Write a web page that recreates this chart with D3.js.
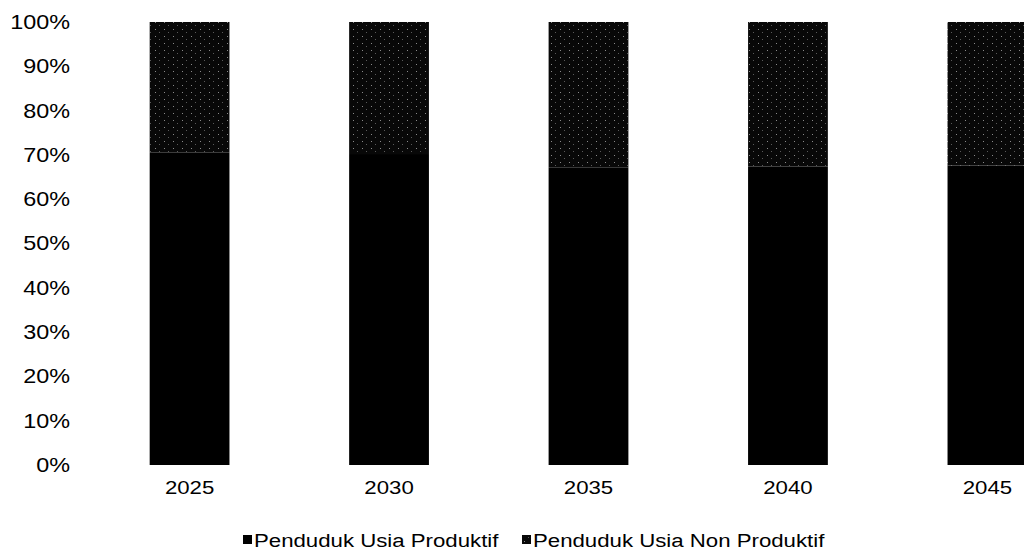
<!DOCTYPE html>
<html>
<head>
<meta charset="utf-8">
<script src="https://cdn.jsdelivr.net/npm/d3@7"></script>
<style>
  html, body { margin: 0; padding: 0; background: #fff; }
  svg { display: block; font-family: "Liberation Sans", Arial, sans-serif; }
</style>
</head>
<body>
<svg id="chart" width="1024" height="553"></svg>
<script>
const years = ["2025", "2030", "2035", "2040", "2045"];
const produktif = [70.5, 70.2, 67.2, 67.4, 67.6];
const nonProduktif = [29.5, 29.8, 32.8, 32.6, 32.4];
const yTicks = [0, 10, 20, 30, 40, 50, 60, 70, 80, 90, 100];
const seriesNames = ["Penduduk Usia Produktif", "Penduduk Usia Non Produktif"];

const svg = d3.select("#chart");
const defs = svg.append("defs");
const pat = defs.append("pattern")
  .attr("id", "dither").attr("patternUnits", "userSpaceOnUse")
  .attr("width", 9).attr("height", 7);
pat.append("rect").attr("width", 9).attr("height", 7).attr("fill", "#080808");
pat.append("rect").attr("x", 2).attr("y", 1).attr("width", 1).attr("height", 1).attr("fill", "#8a8a8a");
pat.append("rect").attr("x", 6).attr("y", 4).attr("width", 1).attr("height", 1).attr("fill", "#5a5a5a");

const x = d3.scaleBand().domain(years).range([30, 1147]).paddingInner(0.6).paddingOuter(0.6);
const y = d3.scaleLinear().domain([0, 100]).range([465, 22]);

const table = years.map((yr, i) => ({ year: yr, p: produktif[i], n: nonProduktif[i] }));
const stack = d3.stack().keys(["p", "n"]);
const layers = stack(table);
const fills = ["#000000", "url(#dither)"];

svg.append("g").selectAll("g").data(layers).join("g")
  .attr("fill", (d, i) => fills[i])
  .selectAll("rect").data(d => d).join("rect")
  .attr("x", d => x(d.data.year))
  .attr("width", x.bandwidth())
  .attr("y", d => y(d[1]))
  .attr("height", d => y(d[0]) - y(d[1]));

const stretch = "scale(1.17,1)";

// Y axis labels
const yAxis = d3.axisLeft(y).tickValues(yTicks).tickFormat(d => d + "%").tickSize(0).tickPadding(0);
const yg = svg.append("g").attr("transform", "translate(70,0)").call(yAxis);
yg.select(".domain").remove();
yg.selectAll("text").attr("font-size", 20).attr("fill", "#000").attr("x", 0)
  .attr("font-family", "Liberation Sans, Arial, sans-serif").attr("transform", stretch);

// X axis labels
const xAxis = d3.axisBottom(x).tickSize(0).tickPadding(0);
const xg = svg.append("g").attr("transform", "translate(0,481)").call(xAxis);
xg.select(".domain").remove();
xg.selectAll("text").attr("font-size", 19).attr("fill", "#000")
  .attr("font-family", "Liberation Sans, Arial, sans-serif").attr("transform", stretch);

// Legend
const legendX = [243, 522];
const lg = svg.append("g");
seriesNames.forEach((name, i) => {
  const g = lg.append("g").attr("transform", `translate(${legendX[i]},540)`);
  g.append("rect").attr("x", 0).attr("y", -5).attr("width", 9).attr("height", 9).attr("fill", fills[i]);
  g.append("g").attr("transform", "translate(11,0) " + stretch)
    .append("text").attr("x", 0).attr("y", 0).attr("dy", "0.35em")
    .attr("font-size", 19).attr("fill", "#000").text(name);
});
</script>
</body>
</html>
